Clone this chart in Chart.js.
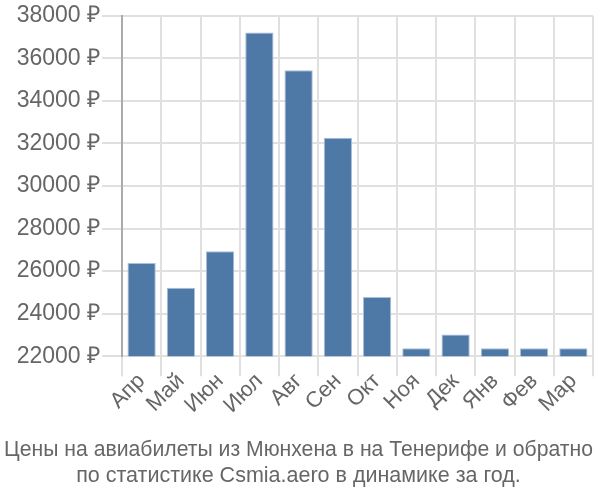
<!DOCTYPE html>
<html>
<head>
<meta charset="utf-8">
<script src="https://cdn.jsdelivr.net/npm/chart.js@4/dist/chart.umd.min.js"></script>
<style>
    html, body { margin: 0; padding: 0; background: #fff; }
    #wrap { width: 600px; height: 500px; }
</style>
</head>
<body>
<div id="wrap"><canvas id="priceChart"></canvas></div>
<script>
const months = ['Апр', 'Май', 'Июн', 'Июл', 'Авг', 'Сен', 'Окт', 'Ноя', 'Дек', 'Янв', 'Фев', 'Мар'];
const prices = [26380, 25220, 26940, 37220, 35440, 32270, 24790, 22380, 23020, 22380, 22380, 22380];
const titleLines = ['Цены на авиабилеты из Мюнхена в на Тенерифе и обратно', 'по статистике Csmia.aero в динамике за год.'];

const textColor = '#666';
const gridColor = '#e0e0e0';

const ctx = document.getElementById('priceChart').getContext('2d');
const priceChart = new Chart(ctx, {
    type: 'bar',
    data: {
        labels: months,
        datasets: [{
            data: prices,
            backgroundColor: '#4e79a7',
            borderColor: '#a9c0d9',
            borderWidth: 1,
            barPercentage: 0.9,
            categoryPercentage: 0.8
        }]
    },
    options: {
        responsive: true,
        maintainAspectRatio: false,
        animation: false,
        layout: { padding: { top: 14, right: 7, left: 4, bottom: 0 } },
        plugins: {
            legend: { display: false },
            tooltip: { enabled: false },
            title: {
                display: true,
                position: 'bottom',
                text: titleLines,
                color: textColor,
                font: { family: 'Liberation Sans Narrow, Arial Narrow, Liberation Sans', size: 21.5, weight: 'normal', lineHeight: 1.25 },
                padding: { top: 4, bottom: 10 }
            }
        },
        scales: {
            x: {
                grid: { color: gridColor, lineWidth: 2, offset: true, tickLength: 20 },
                border: { color: gridColor, width: 2 },
                ticks: {
                    color: textColor,
                    font: { family: 'Liberation Sans', size: 22 },
                    autoSkip: false,
                    maxRotation: 45,
                    minRotation: 45,
                    padding: -8
                },
                afterFit: scale => { scale.height = 76; }
            },
            y: {
                min: 22000,
                max: 38000,
                grid: { color: gridColor, lineWidth: 2, tickLength: 20 },
                border: { color: '#aaa', width: 2 },
                ticks: {
                    stepSize: 2000,
                    color: textColor,
                    font: { family: 'Liberation Sans', size: 23 },
                    padding: 2,
                    callback: v => v + ' ₽'
                },
                afterFit: scale => { scale.width = 118; }
            }
        }
    }
});
</script>
</body>
</html>
